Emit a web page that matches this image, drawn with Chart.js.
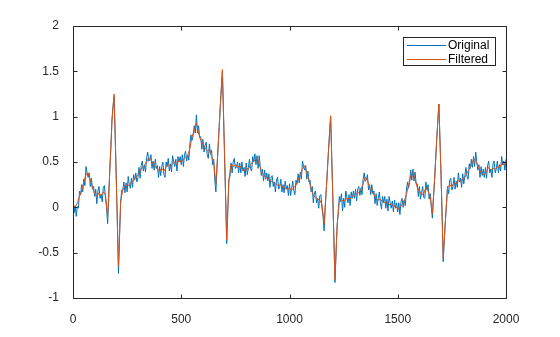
<!DOCTYPE html>
<html>
<head>
<meta charset="utf-8">
<script src="https://cdn.jsdelivr.net/npm/chart.js@4/dist/chart.umd.min.js"></script>
<style>
  html, body { margin: 0; padding: 0; background: #fff; }
  #wrap { position: relative; width: 560px; height: 337px; }
  #chart { position: absolute; left: 0; top: 0; z-index: 2; }
  #legend {
    position: absolute; left: 403px; top: 37px; width: 91px; height: 27px;
    border: 1px solid #262626; background: #fff; z-index: 1;
  }
  .label {
    position: absolute; left: 448px; height: 14px; line-height: 14px; z-index: 3;
    font-family: "Liberation Sans", Arial, sans-serif; font-size: 12px; color: #000; white-space: nowrap;
  }
</style>
</head>
<body>
<div id="wrap">
  <div id="legend"></div>
  <canvas id="chart" width="560" height="337"></canvas>
  <div class="label" style="top:38px">Original</div>
  <div class="label" style="top:52px">Filtered</div>
</div>
<script>
// ── Data ─────────────────────────────────────────────────────
const seriesNames = ['Original', 'Filtered'];
const xTicks = [0, 500, 1000, 1500, 2000];
const yTicks = [-1, -0.5, 0, 0.5, 1, 1.5, 2];

// Original: one value every 5 samples, 0..2000
const originalStep = 5;
const originalValues = [
  0.07,-0.06,0.02,-0.10,0.01,-0.01,0.18,0.14,0.25,0.17,0.31,0.24,0.45,0.38,0.33,0.38,0.23,0.32,0.20,0.23,
  0.12,0.20,0.04,0.18,0.23,0.10,0.14,0.06,0.22,0.24,0.10,0.00,-0.18,0.10,0.42,0.66,0.97,1.12,1.22,0.78,
  0.30,-0.18,-0.73,-0.32,0.06,0.19,0.19,0.28,0.16,0.27,0.17,0.34,0.25,0.21,0.32,0.22,0.36,0.30,0.38,0.28,
  0.33,0.44,0.32,0.46,0.51,0.40,0.47,0.39,0.55,0.61,0.51,0.52,0.58,0.43,0.51,0.41,0.53,0.43,0.46,0.33,
  0.45,0.35,0.45,0.50,0.36,0.33,0.50,0.45,0.54,0.40,0.48,0.39,0.57,0.50,0.45,0.53,0.40,0.56,0.50,0.56,
  0.47,0.58,0.45,0.58,0.62,0.51,0.58,0.52,0.70,0.80,0.74,0.79,0.90,0.82,1.02,0.82,0.90,0.77,0.78,0.64,
  0.75,0.61,0.68,0.72,0.58,0.54,0.70,0.59,0.63,0.47,0.53,0.30,0.17,0.42,0.66,0.88,1.10,1.31,1.50,1.05,
  0.58,0.10,-0.40,-0.04,0.30,0.34,0.49,0.38,0.50,0.54,0.43,0.44,0.50,0.38,0.49,0.38,0.50,0.40,0.44,0.34,
  0.49,0.36,0.44,0.53,0.43,0.40,0.56,0.50,0.59,0.47,0.57,0.43,0.57,0.45,0.35,0.42,0.29,0.41,0.31,0.38,
  0.29,0.37,0.22,0.33,0.35,0.23,0.28,0.17,0.30,0.33,0.20,0.23,0.31,0.17,0.25,0.16,0.29,0.20,0.24,0.13,
  0.26,0.13,0.21,0.29,0.18,0.14,0.30,0.26,0.37,0.27,0.39,0.31,0.51,0.45,0.41,0.46,0.31,0.40,0.28,0.30,
  0.17,0.23,0.05,0.16,0.18,0.05,0.10,-0.01,0.13,0.14,-0.01,-0.10,-0.26,0.00,0.20,0.41,0.62,0.82,1.00,0.56,
  0.12,-0.34,-0.83,-0.50,-0.20,-0.05,0.12,0.06,0.15,-0.04,0.10,0.00,0.18,0.11,0.05,0.14,0.02,0.17,0.10,0.18,
  0.10,0.20,0.07,0.20,0.23,0.13,0.21,0.14,0.31,0.38,0.29,0.30,0.36,0.19,0.25,0.14,0.25,0.15,0.18,0.04,
  0.15,0.02,0.10,0.17,0.05,-0.02,0.12,0.05,0.12,-0.01,0.09,-0.04,0.12,0.05,-0.01,0.07,-0.05,0.08,-0.01,0.05,
  -0.05,0.05,-0.08,0.06,0.10,0.00,0.08,0.02,0.19,0.28,0.21,0.28,0.41,0.30,0.42,0.29,0.39,0.26,0.26,0.12,
  0.23,0.09,0.16,0.23,0.11,0.10,0.28,0.19,0.25,0.09,0.15,0.00,-0.12,0.10,0.30,0.52,0.75,0.95,1.14,0.74,
  0.35,-0.10,-0.60,-0.36,-0.15,0.04,0.23,0.15,0.30,0.32,0.19,0.23,0.33,0.20,0.29,0.22,0.38,0.28,0.32,0.22,
  0.37,0.26,0.35,0.44,0.34,0.31,0.48,0.43,0.53,0.44,0.56,0.45,0.61,0.50,0.41,0.47,0.33,0.45,0.35,0.42,
  0.33,0.44,0.32,0.46,0.51,0.38,0.42,0.33,0.48,0.51,0.38,0.42,0.51,0.38,0.47,0.40,0.56,0.47,0.51,0.41,
  0.53
];

// Filtered: one value every 10 samples, 0..2000
const filteredStep = 10;
const filteredValues = [
  0.02,0.00,0.05,0.12,0.18,0.28,0.36,0.38,0.30,0.22,
  0.15,0.12,0.16,0.13,0.17,0.14,-0.10,0.40,0.95,1.25,
  0.30,-0.65,0.05,0.20,0.22,0.25,0.24,0.28,0.30,0.33,
  0.36,0.40,0.44,0.46,0.50,0.55,0.52,0.48,0.45,0.42,
  0.40,0.43,0.40,0.44,0.47,0.45,0.48,0.50,0.47,0.52,
  0.50,0.53,0.55,0.57,0.65,0.78,0.84,0.93,0.82,0.74,
  0.70,0.66,0.62,0.64,0.56,0.50,0.26,0.65,1.10,1.52,
  0.58,-0.36,0.30,0.48,0.45,0.47,0.44,0.46,0.42,0.40,
  0.44,0.42,0.47,0.50,0.52,0.54,0.48,0.40,0.36,0.33,
  0.32,0.30,0.28,0.27,0.25,0.24,0.25,0.22,0.21,0.20,
  0.21,0.19,0.22,0.24,0.30,0.36,0.42,0.46,0.38,0.30,
  0.20,0.13,0.11,0.09,0.08,0.03,-0.18,0.20,0.62,1.01,
  0.12,-0.80,-0.20,0.06,0.08,0.07,0.09,0.10,0.09,0.12,
  0.13,0.15,0.16,0.20,0.26,0.33,0.30,0.22,0.17,0.14,
  0.10,0.08,0.09,0.06,0.05,0.06,0.03,0.04,0.02,0.01,
  -0.02,0.00,0.03,0.07,0.14,0.25,0.35,0.39,0.31,0.22,
  0.18,0.14,0.15,0.22,0.18,0.12,-0.07,0.30,0.75,1.14,
  0.35,-0.56,-0.15,0.22,0.25,0.23,0.27,0.26,0.30,0.28,
  0.32,0.33,0.38,0.42,0.46,0.53,0.52,0.46,0.40,0.37,
  0.36,0.40,0.44,0.41,0.43,0.42,0.45,0.44,0.48,0.47,
  0.50
];

const colors = ['#0072BD', '#D95319'];
const axisColor = '#262626';
const fontFamily = '"Liberation Sans", Arial, sans-serif';

// ── Build points ─────────────────────────────────────────────
function toPoints(values, step) {
  return values.map((v, i) => ({ x: i * step, y: v }));
}

// ── Box + inward ticks (MATLAB style) + legend swatches ──────
const boxPlugin = {
  id: 'box',
  afterDraw(chart) {
    const { ctx, chartArea: a, scales } = chart;
    const L = Math.round(a.left) + 0.5, R = Math.round(a.right) + 0.5;
    const T = Math.round(a.top) + 0.5,  B = Math.round(a.bottom) + 0.5;
    const len = 4;
    ctx.save();
    ctx.strokeStyle = axisColor;
    ctx.lineWidth = 1;
    ctx.beginPath();
    ctx.rect(L, T, R - L, B - T);
    scales.x.ticks.forEach(t => {
      const x = Math.round(scales.x.getPixelForValue(t.value)) + 0.5;
      ctx.moveTo(x, B); ctx.lineTo(x, B - len);
      ctx.moveTo(x, T); ctx.lineTo(x, T + len);
    });
    scales.y.ticks.forEach(t => {
      const y = Math.round(scales.y.getPixelForValue(t.value)) + 0.5;
      ctx.moveTo(L, y); ctx.lineTo(L + len, y);
      ctx.moveTo(R, y); ctx.lineTo(R - len, y);
    });
    ctx.stroke();

    // legend line samples (box + text are html)
    [45.5, 59.5].forEach((y, i) => {
      ctx.strokeStyle = colors[i];
      ctx.beginPath();
      ctx.moveTo(407, y); ctx.lineTo(446, y);
      ctx.stroke();
    });
    ctx.restore();
  }
};

// ── Chart ────────────────────────────────────────────────────
new Chart(document.getElementById('chart').getContext('2d'), {
  type: 'line',
  data: {
    datasets: [
      {
        label: seriesNames[0],
        data: toPoints(originalValues, originalStep),
        borderColor: colors[0],
        borderWidth: 1,
        order: 2,
      },
      {
        label: seriesNames[1],
        data: toPoints(filteredValues, filteredStep),
        borderColor: colors[1],
        borderWidth: 1,
        order: 1,
      }
    ]
  },
  options: {
    responsive: false,
    animation: false,
    events: [],
    elements: { point: { radius: 0 }, line: { tension: 0 } },
    layout: { padding: { left: 0, right: 54, top: 26, bottom: 0 } },
    plugins: { legend: { display: false }, tooltip: { enabled: false } },
    scales: {
      x: {
        type: 'linear',
        min: 0, max: 2000,
        afterBuildTicks: s => { s.ticks = xTicks.map(v => ({ value: v })); },
        afterFit: s => { s.height = 39; },
        grid: { display: false },
        border: { display: false },
        ticks: {
          color: axisColor, padding: 6, maxRotation: 0,
          font: { family: fontFamily, size: 12 },
          callback: v => String(v),
        },
      },
      y: {
        min: -1, max: 2,
        afterBuildTicks: s => { s.ticks = yTicks.map(v => ({ value: v })); },
        afterFit: s => { s.width = 73; },
        grid: { display: false },
        border: { display: false },
        ticks: {
          color: axisColor, padding: 6,
          font: { family: fontFamily, size: 12 },
          callback: v => String(v),
        },
      }
    }
  },
  plugins: [boxPlugin]
});
</script>
</body>
</html>
